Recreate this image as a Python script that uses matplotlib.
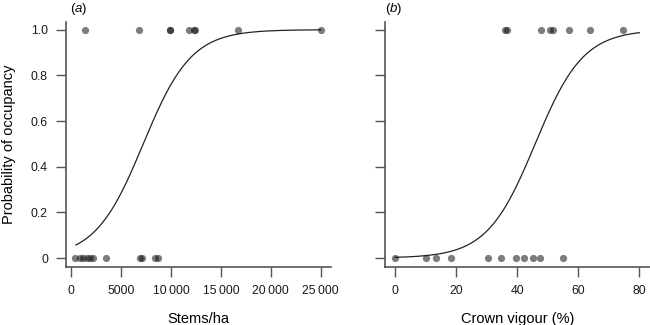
import numpy as np
import matplotlib
matplotlib.use("Agg")
import matplotlib.pyplot as plt

plt.rcParams['font.family'] = ['Liberation Sans', 'DejaVu Sans']
plt.rcParams['mathtext.fontset'] = 'custom'
plt.rcParams['mathtext.rm'] = 'Liberation Sans'
plt.rcParams['mathtext.it'] = 'Liberation Sans:italic'

# panel (a): stems/ha, occupied (1) and unoccupied (0) sites
stems_present = [1430, 6830, 9900, 9950, 11830, 12350, 12450, 16730, 25000]
stems_absent = [400, 900, 1230, 1570, 1900, 2230, 3470, 6900, 7130, 8430, 8670]
# fitted logistic curve: midpoint and slope
stems_mid, stems_slope = 7235, 0.000416
stems_range = (500, 25000)

# panel (b): crown vigour (%)
vigour_present = [36.1, 36.8, 47.9, 50.8, 51.7, 57.1, 63.9, 74.6]
vigour_absent = [0, 10.2, 13.3, 18.3, 30.3, 34.8, 39.7, 42.4, 45.3, 47.6, 55.1]
vigour_mid, vigour_slope = 45.9, 0.127
vigour_range = (0, 80)

stems_ticks = [0, 5000, 10000, 15000, 20000, 25000]
stems_ticklabels = ["0", "5000", "10\u2009000", "15\u2009000", "20\u2009000", "25\u2009000"]
vigour_ticks = [0, 20, 40, 60, 80]
prob_ticks = [0, 0.2, 0.4, 0.6, 0.8, 1.0]
prob_ticklabels = ["0", "0.2", "0.4", "0.6", "0.8", "1.0"]

W, H = 650, 325
fig = plt.figure(figsize=(6.5, 3.25), dpi=100)
bottom = 1 - 267 / H
height = (267 - 22) / H
ax_a = fig.add_axes([66 / W, bottom, (331 - 66) / W, height])
ax_b = fig.add_axes([385 / W, bottom, (650 - 385) / W, height])

spine_col = "#555555"
pt_col = "#111111"


def logistic(x, mid, slope):
    return 1 / (1 + np.exp(-slope * (x - mid)))


def style(ax):
    for s in ["top", "right"]:
        ax.spines[s].set_visible(False)
    for s in ["left", "bottom"]:
        ax.spines[s].set_color(spine_col)
        ax.spines[s].set_linewidth(1.2)
    ax.tick_params(direction="out", length=7, width=1.0, color=spine_col,
                   labelsize=8.8, pad=6, labelcolor="#1a1a1a")
    ax.set_ylim(-0.0394, 1.0337)
    ax.set_yticks(prob_ticks)


# panel a
xs = np.linspace(stems_range[0], stems_range[1], 300)
ax_a.plot(xs, logistic(xs, stems_mid, stems_slope), color="#222222", lw=0.9)
ax_a.plot(stems_present, [1] * len(stems_present), "o", ms=5.2, color=pt_col,
          alpha=0.55, mec="none")
ax_a.plot(stems_absent, [0] * len(stems_absent), "o", ms=5.2, color=pt_col,
          alpha=0.55, mec="none")
style(ax_a)
ax_a.set_xlim(-500, 26030)
ax_a.set_xticks(stems_ticks)
ax_a.set_xticklabels(stems_ticklabels)
ax_a.set_yticklabels(prob_ticklabels)
ax_a.set_xlabel("Stems/ha", fontsize=10.5, labelpad=11)
ax_a.set_ylabel("Probability of occupancy", fontsize=10.5, labelpad=11)

# panel b
xs = np.linspace(vigour_range[0], vigour_range[1], 300)
ax_b.plot(xs, logistic(xs, vigour_mid, vigour_slope), color="#222222", lw=0.9)
ax_b.plot(vigour_present, [1] * len(vigour_present), "o", ms=5.2, color=pt_col,
          alpha=0.55, mec="none")
ax_b.plot(vigour_absent, [0] * len(vigour_absent), "o", ms=5.2, color=pt_col,
          alpha=0.55, mec="none")
style(ax_b)
ax_b.set_xlim(-3.27, 83.5)
ax_b.set_xticks(vigour_ticks)
ax_b.set_yticklabels([])
ax_b.set_xlabel("Crown vigour (%)", fontsize=10.5, labelpad=11)

# panel letters
fig.text(70 / W, 1 - 9 / H, r"($\it{a}$)", fontsize=9.5, ha="left", va="center")
fig.text(385 / W, 1 - 9 / H, r"($\it{b}$)", fontsize=9.5, ha="left", va="center")

fig.savefig("out.png", dpi=100)
